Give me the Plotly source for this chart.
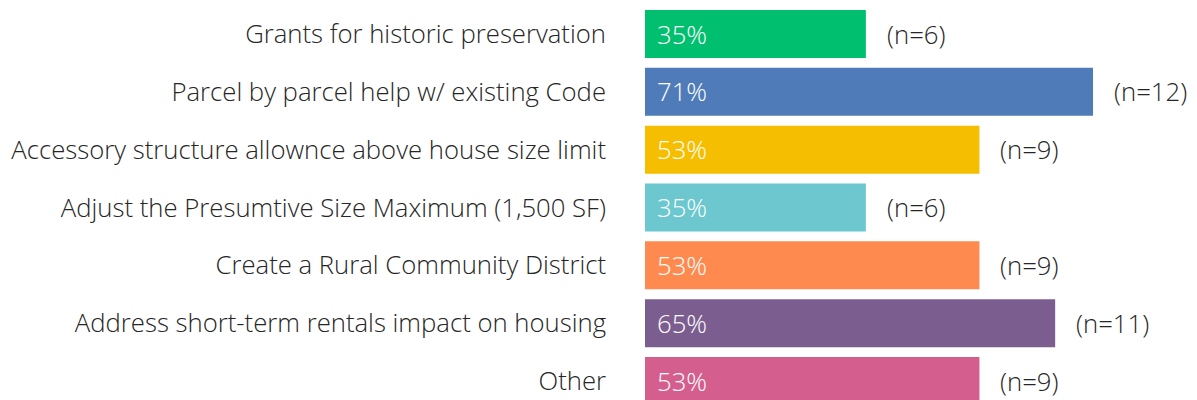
import plotly.graph_objects as go

categories = [
    "Grants for historic preservation",
    "Parcel by parcel help w/ existing Code",
    "Accessory structure allownce above house size limit",
    "Adjust the Presumtive Size Maximum (1,500 SF)",
    "Create a Rural Community District",
    "Address short-term rentals impact on housing",
    "Other",
]
percents = [35, 71, 53, 35, 53, 65, 53]
counts = [6, 12, 9, 6, 9, 11, 9]
colors = ["#00BF6F", "#4F7CB9", "#F5BE00", "#6CC8CE", "#FF8A50", "#7B5E8F", "#D45E8D"]

FONT = "Open Sans"
TEXT_COLOR = "#262626"
SIZE = 25.7

fig = go.Figure()
fig.add_trace(go.Bar(
    y=categories,
    x=percents,
    orientation="h",
    marker=dict(color=colors, line=dict(width=0)),
    width=0.83,
    hoverinfo="skip",
))

for cat, p, n in zip(categories, percents, counts):
    fig.add_annotation(x=0, y=cat, xref="x", yref="y", text=f"{p}%",
                       showarrow=False, xanchor="left", xshift=10,
                       font=dict(family=FONT, size=SIZE, color="white", weight=300))
    fig.add_annotation(x=p, y=cat, xref="x", yref="y", text=f"(n={n})",
                       showarrow=False, xanchor="left", xshift=19,
                       font=dict(family=FONT, size=SIZE, color=TEXT_COLOR, weight=300))

fig.update_layout(
    width=1197, height=400,
    margin=dict(l=645, r=3, t=5, b=0, autoexpand=False),
    paper_bgcolor="white", plot_bgcolor="white",
    showlegend=False,
    font=dict(family=FONT, size=SIZE, color=TEXT_COLOR, weight=300),
    xaxis=dict(range=[0, 87], visible=False, fixedrange=True),
    yaxis=dict(categoryorder="array", categoryarray=categories,
               range=[6.3285, -0.5015], showgrid=False, zeroline=False,
               showline=False, ticks="", ticklabelstandoff=38,
               tickfont=dict(family=FONT, size=SIZE, color=TEXT_COLOR, weight=300),
               automargin=False, fixedrange=True),
)

fig.write_html("out.html")
